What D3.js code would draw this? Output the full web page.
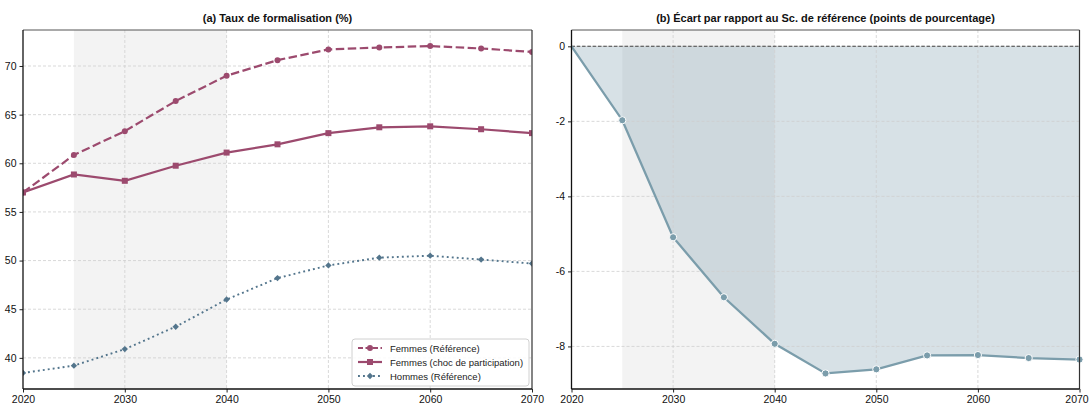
<!DOCTYPE html>
<html><head><meta charset="utf-8">
<script src="https://cdn.jsdelivr.net/npm/d3@7"></script>
<style>
body{margin:0;background:#fff;}
svg{display:block;font-family:"Liberation Sans",Arial,sans-serif;}
</style></head>
<body>
<svg id="c" width="1090" height="405"></svg>
<script>
const years = [2020,2025,2030,2035,2040,2045,2050,2055,2060,2065,2070];
const femmesRef  = [57.0,60.85,63.3,66.4,69.0,70.6,71.7,71.9,72.05,71.8,71.45];
const femmesChoc = [57.0,58.85,58.2,59.75,61.1,61.95,63.1,63.7,63.8,63.5,63.1];
const hommesRef  = [38.45,39.2,40.9,43.2,46.0,48.2,49.5,50.3,50.5,50.1,49.7];
const ecart      = [0,-1.97,-5.09,-6.69,-7.93,-8.72,-8.61,-8.24,-8.23,-8.31,-8.35];
const xTicks = [2020,2030,2040,2050,2060,2070];
const yTicksA = [40,45,50,55,60,65,70];
const yTicksB = [-8,-6,-4,-2,0];
const shadeSpan = [2025,2040];
const titles = ["(a) Taux de formalisation (%)","(b) Écart par rapport au Sc. de référence (points de pourcentage)"];
const legendLabels = ["Femmes (Référence)","Femmes (choc de participation)","Hommes (Référence)"];

const cF = "#9c4a6e", cH = "#53758c", cE = "#7b9dab";
const svg = d3.select("#c");
const yTop = 30, yBot = 389;

function panel(x0, x1, yDomain){
  const g = svg.append("g");
  const x = d3.scaleLinear().domain([2020,2070]).range([x0,x1]);
  const y = d3.scaleLinear().domain(yDomain).range([yBot,yTop]);
  g.append("rect").attr("x",x(shadeSpan[0])).attr("y",yTop)
    .attr("width",x(shadeSpan[1])-x(shadeSpan[0])).attr("height",yBot-yTop)
    .attr("fill","#f3f3f3");
  return {g,x,y};
}
function grid(p, yTicks){
  const {g,x,y} = p;
  g.append("g").selectAll("line").data(xTicks.slice(1,-1)).join("line")
    .attr("x1",d=>x(d)).attr("x2",d=>x(d)).attr("y1",yTop).attr("y2",yBot)
    .attr("stroke","#cfcfcf").attr("stroke-width",0.8).attr("stroke-dasharray","3,2");
  g.append("g").selectAll("line").data(yTicks).join("line")
    .attr("x1",x.range()[0]).attr("x2",x.range()[1]).attr("y1",d=>y(d)).attr("y2",d=>y(d))
    .attr("stroke","#cfcfcf").attr("stroke-width",0.8).attr("stroke-dasharray","3,2");
}
function axes(p, yTicks, title, lastShift){
  const {g,x,y} = p;
  const ax = g.append("g").attr("transform",`translate(0,${yBot})`)
    .call(d3.axisBottom(x).tickValues(xTicks).tickFormat(d3.format("d")).tickSize(3.5).tickPadding(3));
  const ay = g.append("g").attr("transform",`translate(${x.range()[0]},0)`)
    .call(d3.axisLeft(y).tickValues(yTicks).tickFormat(d=>String(d)).tickSize(3.5).tickPadding(3));
  [ax,ay].forEach(a=>{
    a.select(".domain").remove();
    a.selectAll("text").attr("font-size","10.5px").attr("fill","#111").attr("font-family","Liberation Sans, Arial, sans-serif");
    a.selectAll("line").attr("stroke","#222");
  });
  if(lastShift) ax.selectAll(".tick").filter(d=>d===2070).select("text").attr("dx",lastShift);
  const [xa,xb] = x.range();
  g.append("line").attr("x1",xa).attr("x2",xb).attr("y1",yTop).attr("y2",yTop).attr("stroke","#555").attr("stroke-width",1);
  g.append("line").attr("x1",xb).attr("x2",xb).attr("y1",yTop).attr("y2",yBot).attr("stroke","#333").attr("stroke-width",1.2);
  g.append("line").attr("x1",xa).attr("x2",xa).attr("y1",yTop).attr("y2",yBot).attr("stroke","#111").attr("stroke-width",1.3);
  g.append("line").attr("x1",xa).attr("x2",xb).attr("y1",yBot).attr("y2",yBot).attr("stroke","#111").attr("stroke-width",1.3);
  g.append("text").attr("x",(xa+xb)/2).attr("y",yTop-8).attr("text-anchor","middle")
    .attr("font-size","11px").attr("font-weight","bold").attr("fill","#111").text(title);
}

// ---------- Panel A ----------
const A = panel(23, 532, [36.8,73.7]);
grid(A, yTicksA);
svg.append("clipPath").attr("id","ca").append("rect")
  .attr("x",23).attr("y",yTop).attr("width",509).attr("height",yBot-yTop);
const gA = A.g.append("g").attr("clip-path","url(#ca)");
const lineA = d3.line().x((d,i)=>A.x(years[i])).y(d=>A.y(d));
gA.append("path").datum(femmesRef).attr("d",lineA).attr("fill","none").attr("stroke",cF)
  .attr("stroke-width",2.2).attr("stroke-dasharray","8.5,3.5");
gA.append("path").datum(femmesChoc).attr("d",lineA).attr("fill","none").attr("stroke",cF)
  .attr("stroke-width",2.2);
gA.append("path").datum(hommesRef).attr("d",lineA).attr("fill","none").attr("stroke",cH)
  .attr("stroke-width",1.9).attr("stroke-dasharray","1.9,3.1");
gA.append("g").selectAll("circle").data(femmesRef).join("circle")
  .attr("cx",(d,i)=>A.x(years[i])).attr("cy",d=>A.y(d)).attr("r",3).attr("fill",cF);
gA.append("g").selectAll("rect").data(femmesChoc).join("rect")
  .attr("x",(d,i)=>A.x(years[i])-3).attr("y",d=>A.y(d)-3).attr("width",6).attr("height",6).attr("fill",cF);
const diamond = d3.symbol().type(d3.symbolSquare).size(20);
gA.append("g").selectAll("path").data(hommesRef).join("path")
  .attr("d",diamond).attr("transform",(d,i)=>`translate(${A.x(years[i])},${A.y(d)}) rotate(45)`).attr("fill",cH);
axes(A, yTicksA, titles[0], 0);

// legend
const lg = svg.append("g").attr("transform","translate(352,339)");
lg.append("rect").attr("width",177).attr("height",47).attr("rx",3)
  .attr("fill","#fff").attr("fill-opacity",0.85).attr("stroke","#d0d0d0").attr("stroke-width",1);
const legItems = [
  {label:legendLabels[0], dash:"5,2.5", w:2.2, col:cF, m:"circle"},
  {label:legendLabels[1], dash:null, w:2.2, col:cF, m:"square"},
  {label:legendLabels[2], dash:"1.9,3.1", w:1.9, col:cH, m:"diamond"}
];
legItems.forEach((it,i)=>{
  const yy = 9 + i*14;
  const r = lg.append("g").attr("transform",`translate(0,${yy})`);
  r.append("line").attr("x1",6).attr("x2",30).attr("y1",0).attr("y2",0)
    .attr("stroke",it.col).attr("stroke-width",it.w).attr("stroke-dasharray",it.dash);
  if(it.m==="circle") r.append("circle").attr("cx",18).attr("cy",0).attr("r",3).attr("fill",it.col);
  if(it.m==="square") r.append("rect").attr("x",15).attr("y",-3).attr("width",6).attr("height",6).attr("fill",it.col);
  if(it.m==="diamond") r.append("path").attr("d",diamond).attr("transform","translate(18,0) rotate(45)").attr("fill",it.col);
  r.append("text").attr("x",38).attr("y",3.5).attr("font-size","9.5px").attr("fill","#222").text(it.label);
});

// ---------- Panel B ----------
const B = panel(571.5, 1079.5, [-9.135,0.435]);
const areaB = d3.area().x((d,i)=>B.x(years[i])).y0(B.y(0)).y1(d=>B.y(d));
B.g.append("path").datum(ecart).attr("d",areaB).attr("fill",cE).attr("fill-opacity",0.3);
grid(B, yTicksB);
B.g.append("line").attr("x1",571.5).attr("x2",1079.5).attr("y1",B.y(0)).attr("y2",B.y(0))
  .attr("stroke","#444").attr("stroke-width",1.1).attr("stroke-dasharray","3.5,1.8");
const lineB = d3.line().x((d,i)=>B.x(years[i])).y(d=>B.y(d));
B.g.append("path").datum(ecart).attr("d",lineB).attr("fill","none").attr("stroke",cE).attr("stroke-width",2.3);
B.g.append("g").selectAll("circle").data(ecart.slice(1)).join("circle")
  .attr("cx",(d,i)=>B.x(years[i+1])).attr("cy",d=>B.y(d)).attr("r",3.6)
  .attr("fill",cE).attr("stroke","#fff").attr("stroke-width",1);
axes(B, yTicksB, titles[1], -3);
</script>
</body></html>
